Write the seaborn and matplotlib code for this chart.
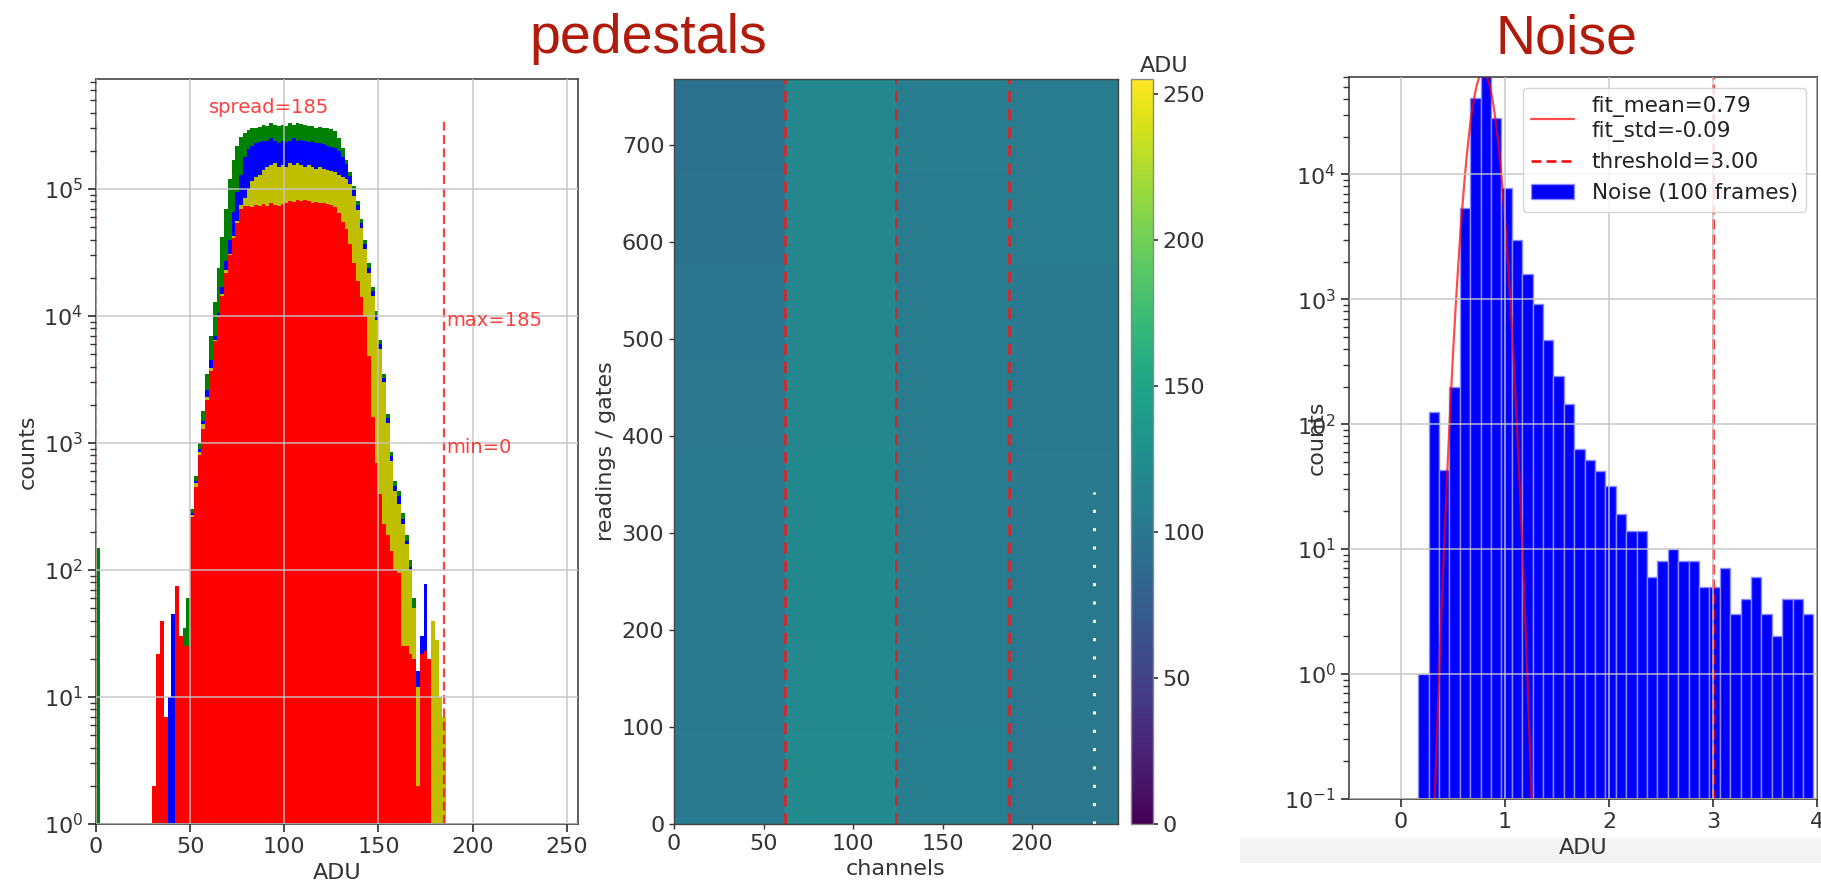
import numpy as np
import pandas as pd
import matplotlib
matplotlib.use("Agg")
import matplotlib.pyplot as plt
import seaborn as sns
from matplotlib.patches import Rectangle

# ---------------- data ----------------
# left panel: pedestal histograms, 2-ADU bins starting at 0 (128 bins)
ped_bin_width = 2
ped_bin_left = list(range(0, 256, 2))

green_counts = ([150, 0, 0, 0, 0, 0, 0, 0, 0, 0] +
                [0, 0, 0, 0, 0, 0, 0, 0, 0, 0] +
                [0, 0, 30, 35, 60, 300, 550, 1000, 1800, 3500] +
                [7000, 13000, 24000, 42000, 70000, 120000, 170000, 220000, 255000, 275000] +
                [290000, 300000, 305000, 310000, 320000, 315000, 330000, 320000, 315000, 320000] +
                [315000, 330000, 320000, 330000, 325000, 320000, 315000, 315000, 305000, 310000] +
                [305000, 300000, 295000, 285000, 250000, 210000, 170000, 135000, 105000, 80000] +
                [58000, 40000, 26000, 17000, 11000, 6500, 3500, 1700, 850, 500] +
                [420, 280, 190, 120, 60, 15, 0, 0, 0, 0] + [0] * 38)

blue_counts = ([0] * 10 +
               [0, 0, 0, 0, 0, 0, 0, 0, 0, 10] +
               [45, 70, 30, 0, 0, 280, 500, 900, 1500, 2600] +
               [4500, 7000, 10500, 17000, 27000, 40000, 66000, 95000, 130000, 180000] +
               [205000, 220000, 230000, 235000, 240000, 240000, 250000, 240000, 230000, 240000] +
               [235000, 240000, 250000, 240000, 245000, 240000, 235000, 240000, 230000, 230000] +
               [225000, 220000, 215000, 210000, 200000, 180000, 158000, 126000, 98000, 75000] +
               [54000, 37000, 24000, 15800, 10200, 6000, 3250, 1580, 790, 460] +
               [380, 250, 170, 105, 45, 16, 30, 77, 0, 0] + [0] * 38)

yellow_counts = ([0] * 20 +
                 [0, 0, 0, 0, 0, 270, 480, 850, 1400, 2300] +
                 [3900, 6500, 10000, 15000, 23000, 31000, 43000, 56000, 75000, 85000] +
                 [100000, 115000, 125000, 130000, 140000, 150000, 155000, 160000, 150000, 155000] +
                 [150000, 160000, 155000, 160000, 155000, 150000, 155000, 150000, 145000, 150000] +
                 [145000, 140000, 138000, 135000, 130000, 125000, 120000, 110000, 88000, 68000] +
                 [49000, 34000, 22000, 14500, 9300, 5500, 3000, 1450, 720, 420] +
                 [330, 230, 160, 100, 50, 12, 4, 0, 0, 40] +
                 [28, 10, 7] + [0] * 35)

red_counts = ([0] * 15 + [2, 22, 40, 7, 0] +
              [0, 75, 30, 25, 25, 260, 450, 800, 1300, 2200] +
              [3700, 6300, 9800, 14500, 22000, 30000, 41000, 54000, 69000, 73000] +
              [74000, 72000, 75000, 73000, 76000, 74000, 77000, 75000, 73000, 76000] +
              [78000, 80000, 79000, 82000, 80000, 82000, 80000, 78000, 79000, 77000] +
              [78000, 76000, 75000, 72000, 65000, 55000, 48000, 37000, 26000, 19000] +
              [14000, 10000, 4800, 1600, 700, 400, 230, 190, 140, 100] +
              [95, 25, 25, 22, 20, 2, 22, 23, 20, 0] + [0] * 38)

ped_spread, ped_max, ped_min = 185, 185, 0

# middle panel: pedestal map, block means (rows bottom->top, 4 ASIC bands)
n_rows, n_channels = 768, 248
rows_per_block, channels_per_band = 96, 62
heat_blocks = [
    [104, 121, 108, 101],
    [103, 120, 107, 102],
    [103, 119, 107, 103],
    [102, 119, 106, 104],
    [101, 118, 105, 103],
    [100, 118, 105, 104],
    [97, 118, 106, 105],
    [96, 118, 107, 105],
]
asic_bounds = [62, 124, 187]
dead_channel, dead_rows = 234.5, 342

# right panel: noise histogram
noise_bin_start, noise_bin_width = 0.165, 0.1
noise_counts = [1, 125, 43, 200, 5400, 41000, 65000, 28000, 7700, 3000,
                1600, 920, 470, 245, 145, 63, 52, 42, 32, 19,
                14, 14, 6, 8, 10, 8, 8, 5, 5, 7,
                3, 4, 6, 3, 2, 4, 4, 3]
fit_mean, fit_std, fit_amp = 0.79, 0.09, 65000
fit_std_label = -0.09
threshold = 3.0

# ---------------- style ----------------
sns.set_theme(style="ticks")
plt.rcParams.update({
    'font.family': ['DejaVu Sans'],
    'font.size': 16,
    'axes.labelsize': 16, 'xtick.labelsize': 16, 'ytick.labelsize': 16,
    'axes.edgecolor': '#444444', 'axes.linewidth': 1.2,
    'xtick.color': '#333333', 'ytick.color': '#333333',
    'axes.labelcolor': '#333333', 'text.color': '#222222',
    'grid.color': '#c4c4c4', 'grid.linewidth': 1.2,
    'legend.fontsize': 15.5,
})

W, H = 1821, 886
fig = plt.figure(figsize=(W / 100, H / 100), dpi=100)


def frac(x0, y0, x1, y1):
    return [x0 / W, 1 - y1 / H, (x1 - x0) / W, (y1 - y0) / H]


ax1 = fig.add_axes(frac(96, 79, 578, 824))
ax2 = fig.add_axes(frac(674, 79, 1118, 824))
cax = fig.add_axes(frac(1131, 79, 1153, 824))
ax3 = fig.add_axes(frac(1349, 77, 1817, 799))

# background band behind the right x label
fig.patches.append(Rectangle((1240 / W, 1 - 863 / H), (W - 1240) / W, 25 / H,
                             transform=fig.transFigure, facecolor='#f4f4f4',
                             edgecolor='none', zorder=-1))

# ---------------- panel 1 ----------------
edges = [float(e) for e in np.arange(0, 256 + ped_bin_width, ped_bin_width)]
centers = np.array(ped_bin_left) + ped_bin_width / 2
for counts, color in [(green_counts, '#008000'), (blue_counts, '#0000ff'),
                      (yellow_counts, '#bfbf00'), (red_counts, '#ff0000')]:
    c = np.array(counts, float)
    m = c > 0
    d = pd.DataFrame({'adu': centers[m], 'n': c[m]})
    sns.histplot(data=d, x='adu', weights='n', bins=edges, color=color,
                 alpha=1.0, linewidth=0, ax=ax1)
ax1.set_yscale('log')
ax1.set_xlim(0, 256)
ax1.set_ylim(1, 7.35e5)
ax1.set_xticks([0, 50, 100, 150, 200, 250])
ax1.grid(True, which='major', alpha=0.85)
ax1.set_axisbelow(False)
ax1.set_xlabel('ADU')
ax1.set_ylabel('counts')
top_line = max(green_counts) * 1.1
ax1.vlines([ped_max, ped_min], 1, top_line, colors='red', linestyles=(0, (4, 2)),
           lw=1.6, alpha=0.75)
ax1.text(60, 4.4e5, f'spread={ped_spread}', color='red', alpha=0.75, fontsize=14,
         va='center', ha='left')
ax1.text(186, 9.3e3, f'max={ped_max}', color='red', alpha=0.75, fontsize=14,
         va='center', ha='left')
ax1.text(186, 920, f'min={ped_min}', color='red', alpha=0.75, fontsize=14,
         va='center', ha='left')

# ---------------- panel 2 ----------------
table = np.array(heat_blocks, float)
full = np.repeat(np.repeat(table, rows_per_block, axis=0), channels_per_band, axis=1)
df = pd.DataFrame(full)
sns.heatmap(df, cmap='viridis', vmin=0, vmax=255, ax=ax2, cbar_ax=cax,
            xticklabels=False, yticklabels=False, rasterized=True)
ax2.invert_yaxis()
ax2.set_xlim(0, n_channels)
ax2.set_ylim(0, n_rows)
ax2.set_xticks([0, 50, 100, 150, 200])
ax2.set_xticklabels(['0', '50', '100', '150', '200'], rotation=0)
ax2.set_yticks(list(range(0, 800, 100)))
ax2.set_yticklabels([str(v) for v in range(0, 800, 100)], rotation=0)
ax2.tick_params(left=True, bottom=True, length=3.5, width=1)
for s in ax2.spines.values():
    s.set_visible(True)
    s.set_color('#444444')
    s.set_linewidth(1.0)
for b in asic_bounds:
    ax2.axvline(b, color='#d62728', ls=(0, (4, 2.5)), lw=2)
ax2.vlines(dead_channel, 0, dead_rows, colors='white', linestyles=(0, (1, 5)), lw=2.2)
ax2.set_xlabel('channels')
ax2.set_ylabel('readings / gates')
cb = ax2.collections[0].colorbar
cb.set_ticks([0, 50, 100, 150, 200, 250])
cb.outline.set_visible(True)
cb.outline.set_linewidth(1.0)
cb.outline.set_edgecolor('#888888')
cax.tick_params(labelsize=16, length=3.5)
cax.text(1.5, 1.004, 'ADU', transform=cax.transAxes, ha='center', va='bottom',
         fontsize=16, color='#333333')

# ---------------- panel 3 ----------------
nedges = noise_bin_start + noise_bin_width * np.arange(len(noise_counts) + 1)
ncenters = nedges[:-1] + noise_bin_width / 2
dn = pd.DataFrame({'adu': ncenters, 'n': np.array(noise_counts, float)})
sns.histplot(data=dn, x='adu', weights='n', bins=[float(e) for e in nedges],
             color='#0000ff', alpha=1.0, edgecolor='#8c8cff', linewidth=1.0,
             label='Noise (100 frames)', ax=ax3)
fx = np.linspace(0.25, 1.35, 400)
fy = fit_amp * np.exp(-0.5 * ((fx - fit_mean) / fit_std) ** 2)
ax3.plot(fx, fy, color='red', alpha=0.7, lw=1.6,
         label=f'fit_mean={fit_mean:.2f}\nfit_std={fit_std_label:.2f}')
ax3.axvline(threshold, color='red', ls=(0, (4, 2)), lw=1.8, alpha=1.0,
            label=f'threshold={threshold:.2f}')
ax3.set_yscale('log')
ax3.set_xlim(-0.5, 4.0)
ax3.set_ylim(0.1, 6.0e4)
ax3.set_xticks([0, 1, 2, 3, 4])
ax3.grid(True, which='major', alpha=0.85)
ax3.set_axisbelow(False)
ax3.set_xlabel('ADU')
ax3.set_ylabel('counts')
ax3.yaxis.set_label_coords(-0.047, 0.5)
handles, labels = ax3.get_legend_handles_labels()
order = []
for key in ['fit_mean', 'threshold', 'Noise']:
    for i, l in enumerate(labels):
        if l.startswith(key):
            order.append(i)
            break
ax3.legend([handles[i] for i in order], [labels[i] for i in order], loc='upper right')

# ---------------- titles ----------------
fig.text(648 / W, 1 - 53 / H, 'pedestals', ha='center', va='baseline', fontsize=40,
         color='#b01b0c', family=['Liberation Sans', 'DejaVu Sans'])
fig.text(1567 / W, 1 - 53 / H, 'Noise', ha='center', va='baseline', fontsize=40,
         color='#b01b0c', family=['Liberation Sans', 'DejaVu Sans'])

fig.savefig('out.png', dpi=100)
